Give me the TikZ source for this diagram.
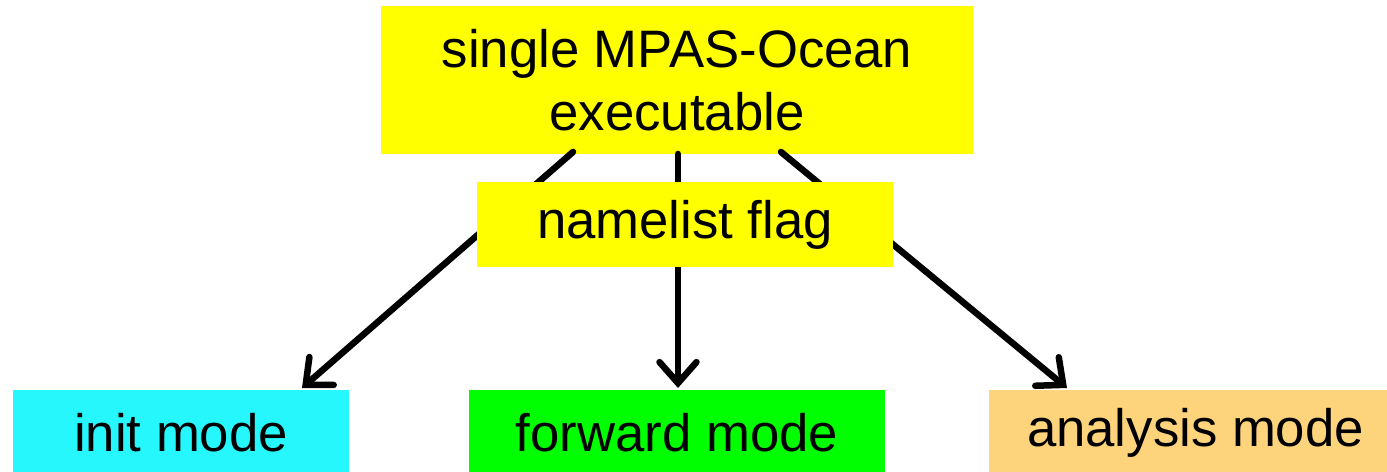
\documentclass[tikz,border=0pt]{standalone}
\usepackage{fontspec}
\setmainfont{Liberation Sans}
\usetikzlibrary{arrows.meta,calc}
\definecolor{boxyellow}{HTML}{FFFF00}
\definecolor{boxcyan}{HTML}{26F7FD}
\definecolor{boxgreen}{HTML}{00FF00}
\definecolor{boxorange}{HTML}{FDD37C}
\begin{document}
\begin{tikzpicture}[x=0.02cm,y=-0.02cm,
  box/.style={inner sep=0pt, outer sep=0pt, align=center,
    font=\fontsize{30}{36}\selectfont},
  conn/.style={line width=0.13cm, line cap=round,
    -{Straight Barb[length=0.42cm,width=0.74cm,line cap=round]}}]
\useasboundingbox (0,0) rectangle (1387,472);
\node[box, fill=boxyellow, minimum width=11.84cm, minimum height=2.96cm] (top) at (677,80) {single MPAS-Ocean\\executable};
\node[box, fill=boxcyan, minimum width=6.72cm, minimum height=1.72cm] (init) at (181,433) {init mode};
\node[box, fill=boxgreen, minimum width=8.32cm, minimum height=1.72cm] (fwd) at (677,433) {forward mode};
\node[box, fill=boxorange, minimum width=7.96cm, minimum height=1.72cm] (ana) at (1188,433) {\hspace*{0.3cm}analysis mode};
\coordinate (s1) at ($(top.south)+(-104,-2)$);
\coordinate (s2) at ($(top.south)+(1,0)$);
\coordinate (s3) at ($(top.south)+(104,-2)$);
\coordinate (e1) at ($(init.north)+(121,-2)$);
\coordinate (e2) at ($(fwd.north)+(1,-2)$);
\coordinate (e3) at ($(ana.north)+(-121,-2)$);
\draw[conn] (s1) -- (e1);
\draw[conn] (s2) -- (e2);
\draw[conn] (s3) -- (e3);
\node[box, fill=boxyellow, minimum width=8.32cm, minimum height=1.7cm] (flag) at (685,224.5) {namelist flag};
\end{tikzpicture}
\end{document}
